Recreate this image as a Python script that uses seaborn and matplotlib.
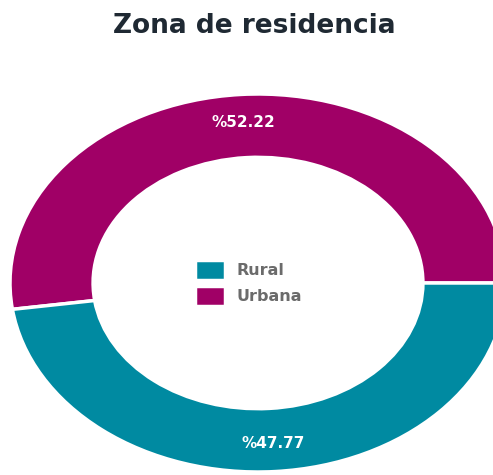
import matplotlib
matplotlib.use('Agg')
import matplotlib.pyplot as plt
import seaborn as sns

# datos
zonas = ['Urbana', 'Rural']
porcentajes = [52.22, 47.77]
etiquetas = ['%52.22', '%47.77']
colores = ['#A00066', '#008AA1']

sns.set_theme(style='white')
plt.rcParams['font.family'] = ['DejaVu Sans']

fig = plt.figure(figsize=(4.93, 4.75), dpi=100)
fig.patch.set_facecolor('white')

# ejes colocados para que la dona quede estirada y cortada a la derecha
ax = fig.add_axes([10 / 493, 3 / 475, 496 / 493, 378 / 475])

pal = sns.color_palette(colores)
wedges, textos = ax.pie(porcentajes, labels=etiquetas, colors=pal,
                        startangle=0, counterclock=True, radius=1,
                        labeldistance=0.85,
                        wedgeprops=dict(width=0.335, edgecolor='white', linewidth=2.5),
                        textprops=dict(color='white', fontsize=11, fontweight='bold'))
for t in textos:
    t.set_ha('center')
    t.set_va('center')

ax.set_aspect('auto')
ax.set_xlim(-1, 1)
ax.set_ylim(-1, 1)
ax.axis('off')

# leyenda al centro (Rural primero)
leg = ax.legend([wedges[1], wedges[0]], [zonas[1], zonas[0]], loc='center',
                frameon=False, fontsize=11.5, handlelength=1.9, handleheight=1.6,
                handletextpad=0.7, labelspacing=0.35,
                bbox_to_anchor=(0.48, 0.5), bbox_transform=ax.transAxes)
for t in leg.get_texts():
    t.set_color('#6b6b6b')
    t.set_fontweight('bold')

fig.text(0.515, 0.945, 'Zona de residencia', ha='center', va='center',
         fontsize=19, fontweight='bold', color='#1f2933')

fig.savefig('out.png', dpi=100, facecolor='white')
